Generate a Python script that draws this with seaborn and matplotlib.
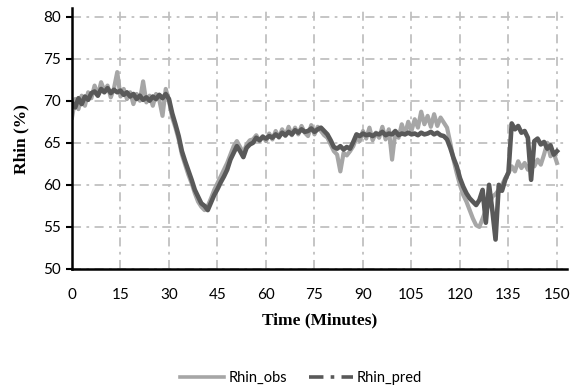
import seaborn as sns
import matplotlib.pyplot as plt
from matplotlib.lines import Line2D
import numpy as np

# minutes 0..150, one reading per minute
minutes = np.arange(0, 151)

rhin_obs = [68.0, 70.2, 69.0, 70.6, 69.4, 71.0, 70.3, 71.8, 70.6, 72.2,
            71.2, 71.8, 70.4, 71.5, 73.4, 70.5, 71.4, 70.2, 71.0, 69.6,
            70.8, 70.0, 72.3, 69.8, 70.6, 69.4, 70.8, 70.1, 68.2, 71.4,
            70.0, 68.0, 66.8, 65.4, 63.6, 62.4, 61.2, 60.2, 59.0, 58.0,
            57.4, 57.0, 57.5, 58.4, 59.4, 60.2, 61.0, 61.8, 62.6, 63.6,
            64.6, 65.2, 64.5, 63.8, 64.8, 65.3, 65.4, 65.9, 65.2, 65.8,
            65.2, 66.1, 65.4, 66.4, 65.6, 66.6, 65.8, 66.9, 65.9, 66.8,
            66.0, 67.0, 66.2, 65.8, 67.1, 66.0, 66.9, 66.4, 65.9, 65.6,
            64.8, 64.0, 63.6, 61.6, 63.8, 63.5, 64.0, 64.6, 65.6, 65.2,
            66.4, 65.5, 66.8, 65.3, 66.2, 65.6, 66.9, 65.4, 66.6, 63.0,
            66.3, 65.6, 67.2, 66.0, 67.5, 66.4, 67.8, 66.8, 68.7, 67.2,
            68.2, 66.9, 68.4, 67.0, 68.0, 67.4, 66.8, 65.0, 63.0, 61.4,
            60.0, 58.8, 58.0, 57.0, 56.0, 55.2, 55.0, 56.0, 57.0, 57.6,
            58.6, 58.9, 59.4, 60.0, 60.8, 61.4, 62.2, 61.6, 62.8, 62.0,
            62.6, 61.8, 62.8, 62.2, 63.0, 62.4, 63.6, 65.0, 63.4, 63.8,
            62.6]

rhin_pred = [69.8, 69.2, 70.3, 69.6, 70.5, 70.1, 70.9, 71.1, 70.6, 71.4,
             71.0, 71.5, 70.9, 71.3, 71.0, 71.2, 70.7, 71.0, 70.5, 70.8,
             70.2, 70.6, 70.1, 70.4, 70.0, 70.5, 70.2, 70.7, 70.3, 70.8,
             70.2, 68.5, 67.2, 65.8, 64.0, 62.8, 61.7, 60.6, 59.4, 58.6,
             57.8, 57.5, 57.0, 57.9, 58.8, 59.5, 60.3, 61.0, 61.8, 63.0,
             63.8, 64.6, 64.0, 63.3, 64.4, 64.8, 65.0, 65.6, 65.3, 65.7,
             65.5, 65.8, 65.6, 66.0, 65.7, 66.2, 65.9, 66.3, 66.0, 66.5,
             66.2, 66.6, 66.3, 66.4, 66.7, 66.3, 66.6, 66.8, 66.4, 66.0,
             65.3, 64.5, 64.3, 64.6, 64.2, 64.5, 64.3, 65.1, 66.0, 65.8,
             66.1, 65.9, 66.0, 65.8, 66.1, 66.0, 66.3, 65.9, 66.1, 66.0,
             66.4, 65.9, 66.1, 66.0, 66.2, 66.0, 66.1, 65.9, 66.2, 66.0,
             66.1, 66.3, 66.0, 66.2, 65.9, 65.8, 65.4, 64.4, 63.2, 62.2,
             60.8, 59.8, 59.0, 58.4, 58.0, 57.6, 58.2, 59.4, 55.5, 60.0,
             57.0, 53.5, 60.0, 59.3, 60.6, 61.5, 67.3, 66.6, 67.0, 66.2,
             66.4, 65.6, 60.6, 65.2, 65.5, 64.8, 65.1, 64.3, 64.7, 63.6,
             64.0]

obs_color = '#a6a6a6'
pred_color = '#595959'

fig = plt.figure(figsize=(5.74, 3.89), dpi=100)
ax = fig.add_axes([0.1254, 0.3085, 0.8624, 0.6705])

sns.lineplot(x=minutes, y=rhin_obs, ax=ax, color=obs_color, lw=3.0)
sns.lineplot(x=minutes, y=rhin_pred, ax=ax, color=pred_color, lw=3.3)

ax.set_xlim(0, 153.1)
ax.set_ylim(50, 81.0)
ax.set_xticks(range(0, 151, 15))
ax.set_yticks(range(50, 81, 5))
ax.grid(True, color='#c0c0c0', linestyle=(0, (5, 3, 1.5, 3)), lw=1.3)
ax.set_axisbelow(True)

for s in ['top', 'right']:
    ax.spines[s].set_visible(False)
for s in ['left', 'bottom']:
    ax.spines[s].set_linewidth(1.8)
    ax.spines[s].set_color('black')

ax.tick_params(axis='y', length=4, width=1.5, labelsize=11, pad=4)
ax.tick_params(axis='x', length=0, labelsize=11, pad=14)
for lab in ax.get_xticklabels() + ax.get_yticklabels():
    lab.set_family('Lato')

ax.set_xlabel('Time (Minutes)', family='Liberation Serif', fontweight='bold', fontsize=12.5, labelpad=7)
ax.set_ylabel('Rhin (%)', family='Liberation Serif', fontweight='bold', fontsize=12.5, labelpad=10)

handles = [Line2D([], [], color=obs_color, lw=2.6, ls='-'),
           Line2D([], [], color=pred_color, lw=2.6, ls=(0, (4, 2, 1, 2)))]
fig.legend(handles, ['Rhin_obs', 'Rhin_pred'], loc='center', bbox_to_anchor=(0.525, 0.028),
           ncol=2, frameon=False, prop={'family': 'Lato', 'size': 10.5},
           handlelength=3.0, handletextpad=0.3, columnspacing=1.5)

plt.savefig('out.png', dpi=100)
